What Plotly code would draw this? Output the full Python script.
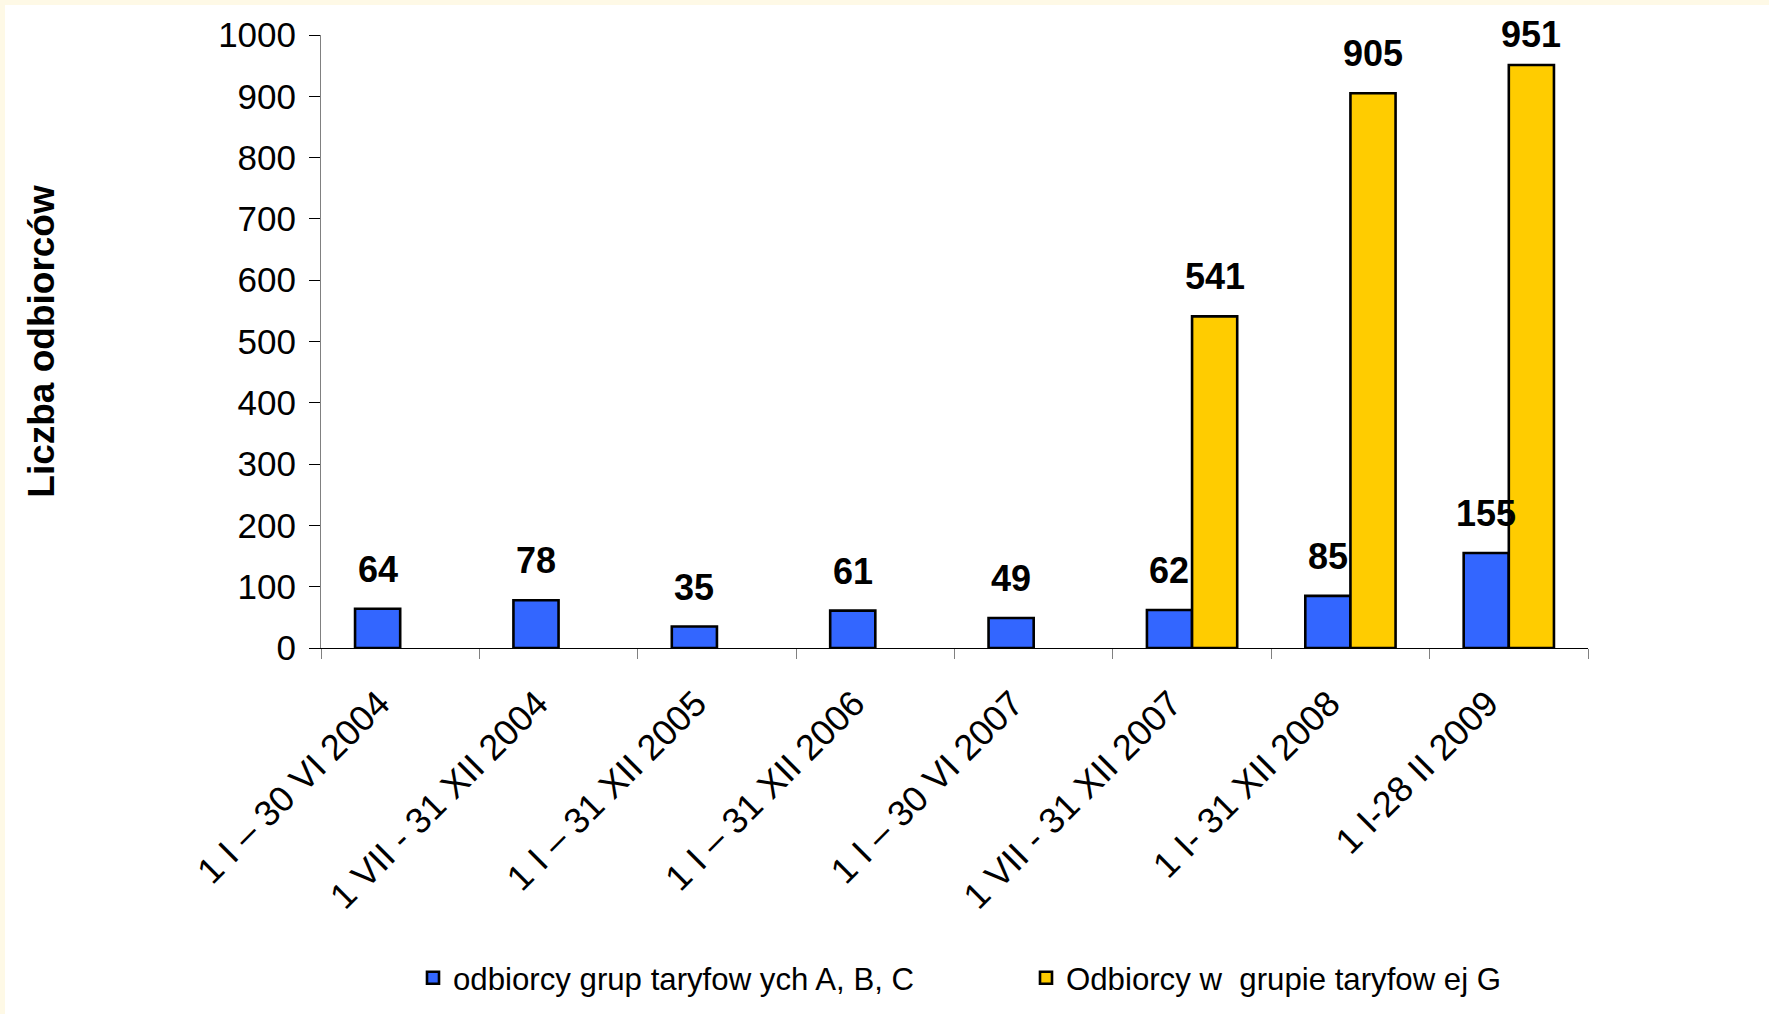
import plotly.graph_objects as go

categories = [
    "1 I – 30 VI 2004",
    "1 VII - 31 XII 2004",
    "1 I – 31 XII 2005",
    "1 I – 31 XII 2006",
    "1 I – 30 VI 2007",
    "1 VII - 31 XII 2007",
    "1 I- 31 XII 2008",
    "1 I-28 II 2009",
]
abc_values = [64, 78, 35, 61, 49, 62, 85, 155]
g_values = [None, None, None, None, None, 541, 905, 951]

series_names = ["odbiorcy grup taryfow ych A, B, C", "Odbiorcy w  grupie taryfow ej G"]
y_title = "Liczba odbiorców"

W, H = 1769, 1014
ML, MR, MT, MB = 321, 181, 35, 366
BARGAP = 0.43
FONT = "Liberation Sans, Arial, sans-serif"
BLUE = "#3366FF"
YELLOW = "#FFCC00"
CREAM = "#FEF9E6"
Y_MAX = 1000
LABEL_SHIFT = 17
LABEL_H = 43
LABEL_TOP_LIMIT = 14

plot_w = W - ML - MR
plot_h = H - MT - MB
cat_px = plot_w / len(categories)
bar_px = cat_px * (1 - BARGAP) / 2


def px_x(px):
    return (px - ML) / plot_w


def px_y(py):
    return (plot_h + MT - py) / plot_h


fig = go.Figure()
fig.add_trace(go.Bar(
    x=categories, y=abc_values, name=series_names[0], legend="legend",
    marker=dict(color=BLUE, line=dict(color="black", width=2.6)),
))
fig.add_trace(go.Bar(
    x=categories, y=g_values, name=series_names[1], legend="legend2",
    marker=dict(color=YELLOW, line=dict(color="black", width=2.6)),
))

annotations = []
for vals, shift in ((abc_values, -bar_px / 2), (g_values, bar_px / 2)):
    for c, v in zip(categories, vals):
        if v is None:
            continue
        bar_top_px = MT + plot_h * (1 - v / Y_MAX)
        yshift = min(LABEL_SHIFT, bar_top_px - LABEL_H - LABEL_TOP_LIMIT)
        annotations.append(dict(
            x=c, y=v, xref="x", yref="y", text=f"<b>{v}</b>", showarrow=False,
            xanchor="center", yanchor="bottom", xshift=shift, yshift=yshift,
            font=dict(family=FONT, size=36, color="black"),
        ))

shapes = [
    dict(type="rect", xref="paper", yref="paper", layer="below",
         x0=px_x(0), x1=px_x(W), y0=px_y(5), y1=px_y(0),
         fillcolor=CREAM, line=dict(width=0)),
    dict(type="rect", xref="paper", yref="paper", layer="below",
         x0=px_x(0), x1=px_x(5), y0=px_y(H), y1=px_y(0),
         fillcolor=CREAM, line=dict(width=0)),
]

legend_common = dict(
    orientation="h", yanchor="middle", y=px_y(978), xanchor="left",
    font=dict(family=FONT, size=31.2, color="black"),
    bgcolor="rgba(0,0,0,0)",
)

fig.update_layout(
    width=W, height=H,
    margin=dict(l=ML, r=MR, t=MT, b=MB, autoexpand=False),
    paper_bgcolor="white", plot_bgcolor="white",
    barmode="group", bargap=BARGAP, bargroupgap=0,
    font=dict(family=FONT, color="black"),
    annotations=annotations, shapes=shapes,
    showlegend=True,
    legend=dict(x=px_x(413), **legend_common),
    legend2=dict(x=px_x(1026), **legend_common),
    xaxis=dict(
        type="category", tickson="boundaries", ticks="outside", ticklen=10,
        tickcolor="#808080", tickwidth=1, showline=True, linecolor="black",
        linewidth=1, showgrid=False, tickangle=-45,
        ticklabelstandoff=19, ticklabelshift=-21,
        tickfont=dict(family=FONT, size=36, color="black"),
    ),
    yaxis=dict(
        range=[0, Y_MAX], dtick=100, ticks="outside", ticklen=11,
        tickcolor="black", tickwidth=1, showline=True, linecolor="#808080",
        linewidth=1, showgrid=False, zeroline=False, ticklabelstandoff=6,
        tickfont=dict(family=FONT, size=35, color="black"),
        title=dict(text=f"<b>{y_title}</b>", standoff=152,
                   font=dict(family=FONT, size=37, color="black")),
    ),
)

fig.write_html(
    "out.html",
    config={"displayModeBar": False},
    post_script="document.body.style.margin='0';document.body.style.padding='0';",
)
